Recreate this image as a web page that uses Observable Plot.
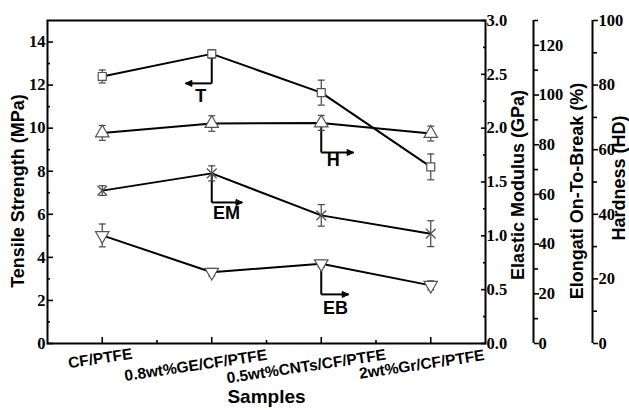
<!DOCTYPE html>
<html><head><meta charset="utf-8">
<script src="https://cdn.jsdelivr.net/npm/d3@7"></script>
<script src="https://cdn.jsdelivr.net/npm/@observablehq/plot@0.6"></script>
<style>body{margin:0;background:#fff} #chart svg{display:block}</style>
</head><body><div id="chart"></div>
<script>
// ---- data ----
const categories = ["CF/PTFE", "0.8wt%GE/CF/PTFE", "0.5wt%CNTs/CF/PTFE", "2wt%Gr/CF/PTFE"];
const tensile = [12.4, 13.45, 11.65, 8.2];          // MPa
const tensileErr = [0.3, 0.2, 0.58, 0.6];
const modulus = [1.42, 1.58, 1.19, 1.02];           // GPa
const modulusErr = [0.045, 0.07, 0.1, 0.12];
const elongation = [43.5, 28.7, 32.1, 23.4];        // %
const elongationErr = [4.6, 1.5, 1.4, 1.8];
const hardness = [65.2, 68.1, 68.3, 65.0];          // HD
const hardnessErr = [2.3, 2.4, 2.3, 2.3];

const leftTicks = [0, 2, 4, 6, 8, 10, 12, 14];
const modulusTicks = [0, 0.5, 1.0, 1.5, 2.0, 2.5, 3.0];
const elongationTicks = [0, 20, 40, 60, 80, 100, 120];
const hardnessTicks = [0, 20, 40, 60, 80, 100];

// ---- layout ----
const serif = "'Liberation Serif', 'Times New Roman', serif";
const sans = "'Liberation Sans', Arial, sans-serif";
const LEFT_MAX = 15, MOD_MAX = 3, ELO_MAX = 130, HARD_MAX = 100;
const kMod = LEFT_MAX / MOD_MAX, kElo = LEFT_MAX / ELO_MAX, kHard = LEFT_MAX / HARD_MAX;

const series = [
  {key: "T", values: tensile, err: tensileErr, k: 1},
  {key: "H", values: hardness, err: hardnessErr, k: kHard},
  {key: "EM", values: modulus, err: modulusErr, k: kMod},
  {key: "EB", values: elongation, err: elongationErr, k: kElo}
];
const rows = series.flatMap(s => s.values.map((v, i) => ({
  key: s.key, i, y: v * s.k, lo: (v - s.err[i]) * s.k, hi: (v + s.err[i]) * s.k
})));
const rowsOf = key => rows.filter(r => r.key === key);

// annotation callouts (left-axis units), anchored to a series point
const annotations = [
  {label: "T",  key: "T",  cat: 1, elbowY: 12.08, tipX: 0.76,  textX: 0.9,   textY: 11.5},
  {label: "EM", key: "EM", cat: 1, elbowY: 6.55,  tipX: 1.28,  textX: 1.135, textY: 6.04},
  {label: "H",  key: "H",  cat: 2, elbowY: 8.87,  tipX: 2.295, textX: 2.11,  textY: 8.5},
  {label: "EB", key: "EB", cat: 2, elbowY: 2.28,  tipX: 2.25,  textX: 2.13,  textY: 1.63}
];
annotations.forEach(a => { a.startY = rows.find(r => r.key === a.key && r.i === a.cat).y; });

// per-label placement of the tilted category labels (pixels)
const labelShift = [[-2, 15], [-16, 22], [-15, 23], [-9, 21]];

const capSymbol = {draw(ctx, size) { const r = Math.sqrt(size / Math.PI); ctx.moveTo(-r, 0); ctx.lineTo(r, 0); }};
const headSymbol = {draw(ctx, size) { const r = Math.sqrt(size / Math.PI); ctx.moveTo(0, 0); ctx.lineTo(-r * 1.6, -r * 0.75); ctx.lineTo(-r * 1.6, r * 0.75); ctx.closePath(); }};

const tickFont = {fontFamily: serif, fontWeight: "bold", fontSize: 16.5};
const titleFont = {fontFamily: sans, fontWeight: "bold", fontSize: 18, textAnchor: "middle", rotate: -90};
const markerStyle = {fill: "white", stroke: "#555", strokeWidth: 1.2};
const noText = () => "";

const chart = Plot.plot({
  width: 629, height: 410,
  marginLeft: 47, marginRight: 144, marginTop: 20, marginBottom: 67,
  style: {background: "white", fontFamily: sans},
  x: {domain: [-0.5, 3.5]},
  y: {domain: [0, LEFT_MAX]},
  marks: [
    // bottom axis ticks (inward)
    Plot.axisX([0, 1, 2, 3], {anchor: "bottom", tickSize: -6, tickFormat: noText, label: null, strokeWidth: 1.6}),
    Plot.axisX([0.5, 1.5, 2.5], {anchor: "bottom", tickSize: -3, tickFormat: noText, label: null, strokeWidth: 1.6}),
    // left axis
    Plot.axisY(leftTicks, {anchor: "left", tickSize: -6, tickFormat: noText, label: null, strokeWidth: 1.6}),
    Plot.axisY(d3.range(1, 15, 2), {anchor: "left", tickSize: -3, tickFormat: noText, label: null, strokeWidth: 1.6}),
    Plot.text(leftTicks, {y: d => d, frameAnchor: "left", textAnchor: "end", dx: -2, ...tickFont}),
    // elastic modulus axis (frame right edge)
    Plot.axisY(modulusTicks.map(v => v * kMod), {anchor: "right", tickSize: -5, tickFormat: noText, label: null, strokeWidth: 1.6}),
    Plot.axisY(d3.range(0.25, 3, 0.5).map(v => v * kMod), {anchor: "right", tickSize: -3, tickFormat: noText, label: null, strokeWidth: 1.6}),
    Plot.text(modulusTicks, {y: d => d * kMod, text: d => d.toFixed(1), frameAnchor: "right", textAnchor: "start", dx: 1, ...tickFont}),
    // elongation axis
    Plot.ruleX([3.5], {dx: 48, y1: 0, y2: LEFT_MAX, strokeWidth: 2}),
    Plot.axisY(elongationTicks.map(v => v * kElo), {anchor: "right", dx: 48, tickSize: 5, tickFormat: noText, label: null, strokeWidth: 1.6}),
    Plot.axisY(d3.range(10, 131, 20).map(v => v * kElo), {anchor: "right", dx: 48, tickSize: 4, tickFormat: noText, label: null, strokeWidth: 1.6}),
    Plot.text(elongationTicks, {y: d => d * kElo, text: d => String(d), frameAnchor: "right", textAnchor: "start", dx: 53, ...tickFont}),
    // hardness axis
    Plot.ruleX([3.5], {dx: 107, y1: 0, y2: LEFT_MAX, strokeWidth: 2}),
    Plot.axisY(hardnessTicks.map(v => v * kHard), {anchor: "right", dx: 107, tickSize: 5, tickFormat: noText, label: null, strokeWidth: 1.6}),
    Plot.axisY(d3.range(10, 100, 20).map(v => v * kHard), {anchor: "right", dx: 107, tickSize: 4, tickFormat: noText, label: null, strokeWidth: 1.6}),
    Plot.text(hardnessTicks, {y: d => d * kHard, text: d => String(d), frameAnchor: "right", textAnchor: "start", dx: 113, ...tickFont}),
    Plot.frame({strokeWidth: 2}),
    // category labels
    ...categories.map((c, i) => Plot.text([c], {x: () => i, y: () => 0, dx: labelShift[i][0], dy: labelShift[i][1],
      rotate: -8.5, fontFamily: sans, fontWeight: "bold", fontSize: 15.5})),
    // axis titles
    Plot.text(["Samples"], {frameAnchor: "bottom", dy: 59, fontFamily: sans, fontWeight: "bold", fontSize: 19}),
    Plot.text(["Tensile Strength (MPa)"], {frameAnchor: "left", dx: -29, dy: 9, ...titleFont}),
    Plot.text(["Elastic Modulus (GPa)"], {frameAnchor: "right", dx: 33, dy: 3, ...titleFont}),
    Plot.text(["Elongati On-To-Break (%)"], {frameAnchor: "right", dx: 92, dy: 9, ...titleFont}),
    Plot.text(["Hardness (HD)"], {frameAnchor: "right", dx: 134, dy: -4, ...titleFont}),
    // callouts
    Plot.link(annotations, {x1: "cat", y1: "startY", x2: "cat", y2: "elbowY", stroke: "black", strokeWidth: 2}),
    Plot.link(annotations, {x1: "cat", y1: "elbowY", x2: "tipX", y2: "elbowY", stroke: "black", strokeWidth: 2}),
    Plot.dot(annotations, {x: "tipX", y: "elbowY", symbol: headSymbol, r: 4, fill: "black", stroke: "black", strokeWidth: 1,
      rotate: d => (d.tipX < d.cat ? 180 : 0)}),
    Plot.text(annotations, {x: "textX", y: "textY", text: "label", fontFamily: sans, fontWeight: "bold", fontSize: 18}),
    // series lines
    Plot.line(rows, {x: "i", y: "y", z: "key", stroke: "black", strokeWidth: 2}),
    // error bars
    Plot.ruleX(rows, {x: "i", y1: "lo", y2: "hi", stroke: "#444", strokeWidth: 1.2}),
    Plot.dot(rows, {x: "i", y: "lo", symbol: capSymbol, r: 3.5, stroke: "#444", strokeWidth: 1.2}),
    Plot.dot(rows, {x: "i", y: "hi", symbol: capSymbol, r: 3.5, stroke: "#444", strokeWidth: 1.2}),
    // markers
    Plot.dot(rowsOf("T"), {x: "i", y: "y", symbol: "square", r: 4.5, ...markerStyle}),
    Plot.dot(rowsOf("H"), {x: "i", y: "y", symbol: "triangle", r: 5, ...markerStyle}),
    Plot.dot(rowsOf("EM"), {x: "i", y: "y", symbol: "times", r: 4.5, stroke: "#555", strokeWidth: 1.3}),
    Plot.dot(rowsOf("EB"), {x: "i", y: "y", symbol: "triangle", r: 5, rotate: 180, ...markerStyle})
  ]
});
document.getElementById("chart").append(chart);
</script>
</body></html>
